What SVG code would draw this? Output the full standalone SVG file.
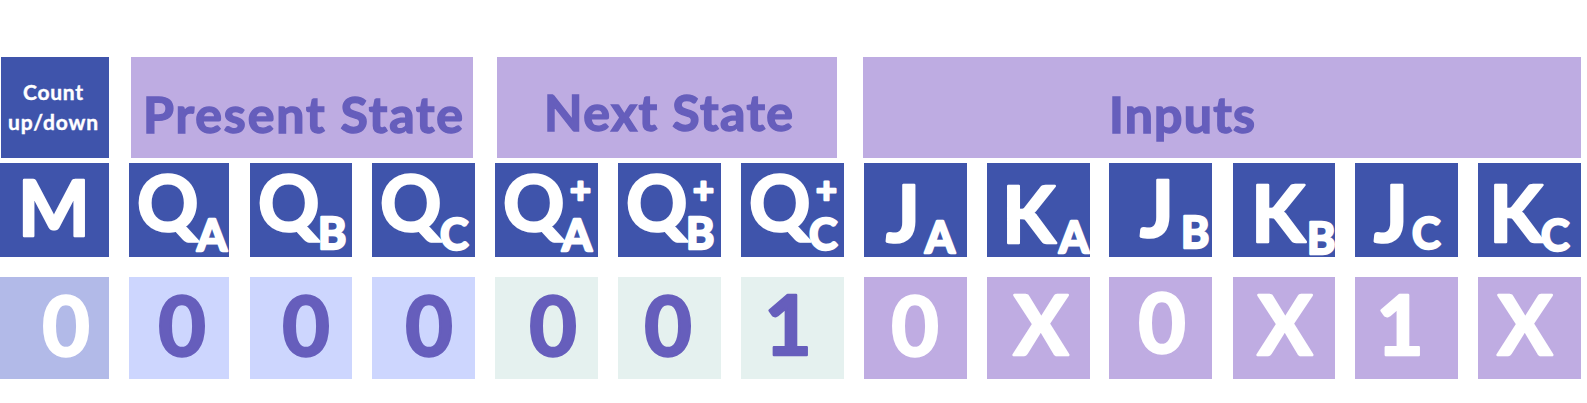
<svg xmlns="http://www.w3.org/2000/svg" width="1587" height="403" viewBox="0 0 1587 403">
<style>
  text { font-family: Lato, "Open Sans", "Liberation Sans", sans-serif; font-weight: bold; }
  .hd { fill: #BEACE2; }
  .dk { fill: #3F54AB; }
  .vm { fill: #B2BAE8; }
  .vp { fill: #CDD6FE; }
  .vn { fill: #E5F1EF; }
  .vi { fill: #BFACE2; }
  .ht { fill: #665EBC; stroke: #665EBC; stroke-width: 1.5px; font-size: 50px; }
  .wt { fill: #FFFFFF; stroke: #FFFFFF; stroke-width: 2.5px; stroke-linejoin: round; }
  .ct { fill: #FFFFFF; stroke: #FFFFFF; stroke-width: 0.4px; font-size: 21px; text-anchor: middle; }
  .pt { fill: #665EBC; stroke: #665EBC; stroke-width: 2.5px; stroke-linejoin: round; }
  .lab { font-size: 76px; }
  .sub { font-size: 43px; }
  .pl { font-size: 36px; }
  .val { font-size: 82px; text-anchor: middle; }
</style>
<rect width="1587" height="403" fill="#FFFFFF"/>

<!-- Header row -->
<g id="hdr-count">
  <rect class="dk" x="1" y="57" width="108" height="101"/>
  <text class="ct" x="53" y="100" textLength="60">Count</text>
  <text class="ct" x="53" y="130" textLength="90">up/down</text>
</g>
<g id="hdr-present">
  <rect class="hd" x="131" y="57" width="342" height="101"/>
  <text class="ht" x="143" y="133" textLength="320" font-size="49">Present State</text>
</g>
<g id="hdr-next">
  <rect class="hd" x="497" y="57" width="340" height="101"/>
  <text class="ht" x="544" y="131" textLength="249">Next State</text>
</g>
<g id="hdr-inputs">
  <rect class="hd" x="863" y="57" width="718" height="101"/>
  <text class="ht" x="1109" y="133" textLength="146">Inputs</text>
</g>

<!-- Label row -->
<g id="lbl-M">
  <rect class="dk" x="0" y="163" width="109" height="94"/>
  <text class="wt lab" x="54" y="236" text-anchor="middle">M</text>
</g>
<g id="lbl-QA">
  <rect class="dk" x="129" y="163" width="100" height="94"/>
  <text class="wt"><tspan class="lab" x="137" y="231">Q</tspan><tspan class="sub" x="197" y="251">A</tspan></text>
</g>
<g id="lbl-QB">
  <rect class="dk" x="250" y="163" width="102" height="94"/>
  <text class="wt"><tspan class="lab" x="258" y="231">Q</tspan><tspan class="sub" x="318" y="249">B</tspan></text>
</g>
<g id="lbl-QC">
  <rect class="dk" x="372" y="163" width="103" height="94"/>
  <text class="wt"><tspan class="lab" x="380" y="231">Q</tspan><tspan class="sub" x="440" y="250">C</tspan></text>
</g>
<g id="lbl-QA+">
  <rect class="dk" x="495" y="163" width="103" height="94"/>
  <text class="wt"><tspan class="lab" x="503" y="231">Q</tspan><tspan class="pl" x="570" y="203">+</tspan><tspan class="sub" x="562" y="251">A</tspan></text>
</g>
<g id="lbl-QB+">
  <rect class="dk" x="618" y="163" width="103" height="94"/>
  <text class="wt"><tspan class="lab" x="626" y="231">Q</tspan><tspan class="pl" x="693" y="203">+</tspan><tspan class="sub" x="686" y="249">B</tspan></text>
</g>
<g id="lbl-QC+">
  <rect class="dk" x="741" y="163" width="103" height="94"/>
  <text class="wt"><tspan class="lab" x="749" y="231">Q</tspan><tspan class="pl" x="816" y="203">+</tspan><tspan class="sub" x="809" y="250">C</tspan></text>
</g>
<g id="lbl-JA">
  <rect class="dk" x="864" y="163" width="103" height="94"/>
  <text class="wt"><tspan x="886" y="242" font-size="79">J</tspan><tspan class="sub" x="925" y="253">A</tspan></text>
</g>
<g id="lbl-KA">
  <rect class="dk" x="987" y="163" width="103" height="94"/>
  <text class="wt"><tspan x="1002" y="243" font-size="78">K</tspan><tspan class="sub" x="1059" y="253" font-size="41">A</tspan></text>
</g>
<g id="lbl-JB">
  <rect class="dk" x="1109" y="163" width="103" height="94"/>
  <text class="wt"><tspan x="1140" y="237" font-size="79">J</tspan><tspan class="sub" x="1181" y="248">B</tspan></text>
</g>
<g id="lbl-KB">
  <rect class="dk" x="1233" y="163" width="102" height="94"/>
  <text class="wt"><tspan x="1251" y="242" font-size="79">K</tspan><tspan class="sub" x="1307" y="254">B</tspan></text>
</g>
<g id="lbl-JC">
  <rect class="dk" x="1355" y="163" width="103" height="94"/>
  <text class="wt"><tspan x="1374" y="242" font-size="79">J</tspan><tspan class="sub" x="1412" y="249">C</tspan></text>
</g>
<g id="lbl-KC">
  <rect class="dk" x="1478" y="163" width="103" height="94"/>
  <text class="wt"><tspan x="1489" y="242" font-size="79">K</tspan><tspan class="sub" x="1541" y="251">C</tspan></text>
</g>

<!-- Value row -->
<g id="val-M">
  <rect class="vm" x="0" y="277" width="109" height="102"/>
  <text class="wt val" x="66" y="356">0</text>
</g>
<g id="val-QA">
  <rect class="vp" x="129" y="277" width="100" height="102"/>
  <text class="pt val" x="182" y="356">0</text>
</g>
<g id="val-QB">
  <rect class="vp" x="250" y="277" width="102" height="102"/>
  <text class="pt val" x="306" y="356">0</text>
</g>
<g id="val-QC">
  <rect class="vp" x="372" y="277" width="103" height="102"/>
  <text class="pt val" x="429" y="356">0</text>
</g>
<g id="val-QA+">
  <rect class="vn" x="495" y="277" width="103" height="102"/>
  <text class="pt val" x="553" y="356">0</text>
</g>
<g id="val-QB+">
  <rect class="vn" x="618" y="277" width="103" height="102"/>
  <text class="pt val" x="668" y="356">0</text>
</g>
<g id="val-QC+">
  <rect class="vn" x="741" y="277" width="103" height="102"/>
  <text class="pt val" x="788" y="355">1</text>
</g>
<g id="val-JA">
  <rect class="vi" x="864" y="277" width="103" height="102"/>
  <text class="wt val" x="915" y="356">0</text>
</g>
<g id="val-KA">
  <rect class="vi" x="987" y="277" width="103" height="102"/>
  <text class="wt val" x="1041" y="355">X</text>
</g>
<g id="val-JB">
  <rect class="vi" x="1109" y="277" width="103" height="102"/>
  <text class="wt val" x="1162" y="353">0</text>
</g>
<g id="val-KB">
  <rect class="vi" x="1233" y="277" width="102" height="102"/>
  <text class="wt val" x="1285" y="355">X</text>
</g>
<g id="val-JC">
  <rect class="vi" x="1355" y="277" width="103" height="102"/>
  <text class="wt val" x="1400" y="355">1</text>
</g>
<g id="val-KC">
  <rect class="vi" x="1478" y="277" width="103" height="102"/>
  <text class="wt val" x="1525" y="355">X</text>
</g>

<g id="connectors"/>
</svg>
